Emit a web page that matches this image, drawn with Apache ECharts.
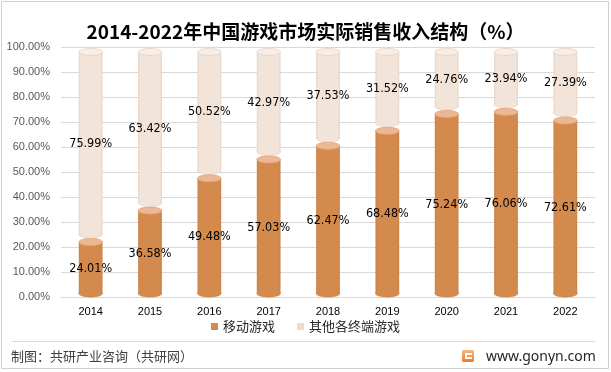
<!DOCTYPE html>
<html>
<head>
<meta charset="utf-8">
<script src="https://cdn.jsdelivr.net/npm/echarts@6/dist/echarts.min.js"></script>
<style>
html,body{margin:0;padding:0;background:#fff;}
#c{width:611px;height:372px;}
</style>
</head>
<body>
<div id="c"></div>
<script>
var years = ['2014','2015','2016','2017','2018','2019','2020','2021','2022'];
var mobile = [24.01, 36.58, 49.48, 57.03, 62.47, 68.48, 75.24, 76.06, 72.61];
var other = [75.99, 63.42, 50.52, 42.97, 37.53, 31.52, 24.76, 23.94, 27.39];
var yTicks = [0, 10, 20, 30, 40, 50, 60, 70, 80, 90, 100];

var ORANGE = '#D48A4C', ORANGE_TOP = '#EBB794';
var LIGHT = '#F3E4D9', LIGHT_TOP = '#F8EEE6', LIGHT_EDGE = '#E3D2C5';
var FONT = 'Liberation Sans, Arial, sans-serif';
var LABEL_FONT = '12.5px "Liberation Sans Narrow", "DejaVu Sans Condensed", sans-serif';

var mobileData = mobile.map(function (v, i) { return [i, 0, v, v]; });
var otherData = other.map(function (v, i) { return [i, mobile[i], mobile[i] + v, v]; });

function renderCyl(isTop) {
  return function (params, api) {
    var i = api.value(0);
    var lo = api.coord([i, api.value(1)]);
    var hi = api.coord([i, api.value(2)]);
    var w = api.size([1, 0])[0] * 0.4;
    var rx = w / 2, ry = 3.5;
    var cx = lo[0];
    var children = [];
    var topC, botC, body, cap, edge;
    if (!isTop) {
      botC = lo[1] - 3.5;
      topC = hi[1] + 5;
      body = ORANGE; cap = ORANGE_TOP; edge = '#C98043';
    } else {
      botC = lo[1] - 2.5;
      topC = hi[1] + 5;
      body = LIGHT; cap = LIGHT_TOP; edge = LIGHT_EDGE;
    }
    children.push({ type: 'ellipse', shape: { cx: cx, cy: botC, rx: rx, ry: ry },
      style: { fill: body, stroke: edge, lineWidth: 0.6 } });
    children.push({ type: 'rect', shape: { x: cx - rx, y: topC, width: w, height: botC - topC },
      style: { fill: {
        type: 'linear', x: 0, y: 0, x2: 1, y2: 0,
        colorStops: [{ offset: 0, color: edge }, { offset: 0.08, color: body }, { offset: 0.92, color: body }, { offset: 1, color: edge }]
      } } });
    children.push({ type: 'ellipse', shape: { cx: cx, cy: topC, rx: rx, ry: ry },
      style: { fill: cap, stroke: isTop ? LIGHT_EDGE : '#E2A57A', lineWidth: 0.8 } });
    children.push({ type: 'text', style: {
      text: api.value(3).toFixed(2) + '%', x: cx, y: (lo[1] + hi[1]) / 2 + 2,
      align: 'center', verticalAlign: 'middle', fill: '#000', font: LABEL_FONT } });
    return { type: 'group', children: children };
  };
}

var chart = echarts.init(document.getElementById('c'));
chart.setOption({
  backgroundColor: '#fff',
  animation: false,
  title: {
    text: '2014-2022年中国游戏市场实际销售收入结构（%）',
    left: 'center', top: 17,
    textStyle: { fontSize: 19, fontWeight: 'bold', color: '#000', fontFamily: 'Noto Sans CJK SC' }
  },
  legend: {
    bottom: 34, left: 'center',
    icon: 'rect', itemWidth: 7, itemHeight: 7, itemGap: 22,
    textStyle: { fontSize: 13, color: '#262626', fontFamily: 'Noto Sans CJK SC' },
    data: [{ name: '移动游戏', itemStyle: { color: ORANGE } }, { name: '其他各终端游戏', itemStyle: { color: '#EEDBCD' } }]
  },
  grid: { left: 61, right: 16, top: 47, bottom: 75 },
  xAxis: {
    type: 'category', data: years,
    axisLine: { lineStyle: { color: '#D9D9D9' } },
    axisTick: { show: false },
    axisLabel: { color: '#000', fontSize: 11, fontFamily: FONT, margin: 9 }
  },
  yAxis: {
    type: 'value', min: yTicks[0], max: yTicks[yTicks.length - 1], interval: 10,
    axisLine: { show: false }, axisTick: { show: false },
    splitLine: { lineStyle: { color: '#D9D9D9' } },
    axisLabel: { color: '#595959', fontSize: 11, fontFamily: FONT, margin: 11,
      formatter: function (v) { return v.toFixed(2) + '%'; } }
  },
  series: [
    { name: '移动游戏', type: 'custom', renderItem: renderCyl(false), data: mobileData,
      itemStyle: { color: ORANGE }, encode: { x: 0, y: [1, 2] }, z: 3 },
    { name: '其他各终端游戏', type: 'custom', renderItem: renderCyl(true), data: otherData,
      itemStyle: { color: '#EEDBCD' }, encode: { x: 0, y: [1, 2] }, z: 2 }
  ],
  graphic: [
    { type: 'rect', shape: { x: 1.5, y: 1.5, width: 607, height: 367 },
      style: { fill: null, stroke: '#D0D0D0', lineWidth: 1 }, z: -1 },
    { type: 'line', shape: { x1: 12, y1: 341.5, x2: 595, y2: 341.5 },
      style: { stroke: '#D9D9D9', lineWidth: 1 } },
    { type: 'text', style: { text: '制图：共研产业咨询（共研网）', x: 11, y: 356, verticalAlign: 'middle',
      fill: '#404040', font: '13px "Noto Sans CJK SC"' } },
    { type: 'rect', shape: { x: 462, y: 350, width: 12, height: 12, r: 1.5 },
      style: { fill: { type: 'linear', x: 0, y: 0, x2: 0, y2: 1,
        colorStops: [{ offset: 0, color: '#F9B978' }, { offset: 1, color: '#EE7A2E' }] } } },
    { type: 'rect', shape: { x: 465, y: 353, width: 7, height: 2 }, style: { fill: '#fff' } },
    { type: 'rect', shape: { x: 465, y: 355, width: 2, height: 4 }, style: { fill: '#fff' } },
    { type: 'rect', shape: { x: 467, y: 357, width: 5, height: 2 }, style: { fill: '#fff' } },
    { type: 'text', style: { text: 'www.gonyn.com', x: 486, y: 357, verticalAlign: 'middle',
      fill: '#262626', font: '14px "Noto Sans", sans-serif' } }
  ]
});
</script>
</body>
</html>
